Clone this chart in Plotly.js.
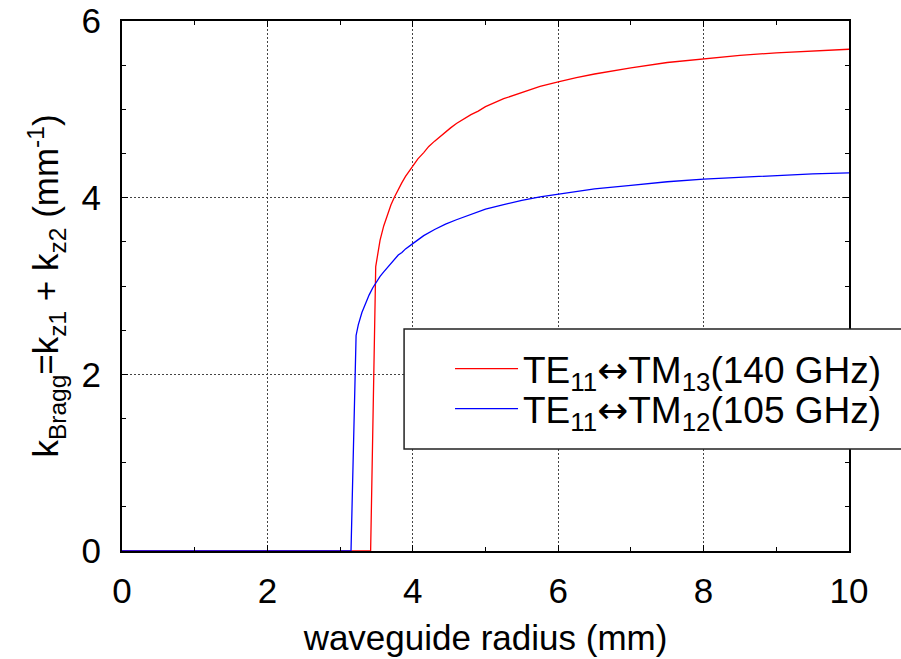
<!DOCTYPE html>
<html>
<head>
<meta charset="utf-8">
<script src="https://cdn.plot.ly/plotly-3.0.1.min.js"></script>
<style>html,body{margin:0;padding:0;background:#fff;}#chart{width:901px;height:659px;}</style>
</head>
<body>
<div id="chart"></div>
<script>
// waveguide radius (mm) and k_Bragg (mm^-1)
const radius140 = [0, 3.42, 3.49, 3.52, 3.55, 3.6, 3.65, 3.7, 3.75, 3.8, 3.85, 3.9, 3.95, 4.0, 4.07, 4.15, 4.22, 4.3, 4.37, 4.45, 4.52, 4.6, 4.7, 4.8, 4.9, 5.0, 5.25, 5.5, 5.75, 6.0, 6.25, 6.5, 7.0, 7.5, 8.0, 8.5, 9.0, 9.5, 10.0];
const kBragg140 = [0, 0, 3.22, 3.39, 3.52, 3.68, 3.81, 3.92, 4.01, 4.10, 4.17, 4.24, 4.30, 4.36, 4.44, 4.51, 4.58, 4.64, 4.69, 4.75, 4.79, 4.84, 4.89, 4.94, 4.98, 5.03, 5.12, 5.19, 5.26, 5.31, 5.36, 5.40, 5.47, 5.53, 5.57, 5.61, 5.64, 5.66, 5.68];
const radius105 = [0, 3.15, 3.22, 3.25, 3.3, 3.35, 3.4, 3.45, 3.5, 3.55, 3.6, 3.65, 3.7, 3.75, 3.8, 3.85, 3.9, 4.0, 4.07, 4.15, 4.3, 4.45, 4.6, 4.7, 4.8, 4.9, 5.0, 5.25, 5.5, 5.75, 6.0, 6.25, 6.5, 7.0, 7.5, 8.0, 8.5, 9.0, 9.5, 10.0];
const kBragg105 = [0, 0, 2.44, 2.56, 2.70, 2.81, 2.90, 2.98, 3.05, 3.11, 3.16, 3.21, 3.26, 3.30, 3.35, 3.38, 3.42, 3.48, 3.52, 3.57, 3.64, 3.70, 3.75, 3.78, 3.81, 3.84, 3.87, 3.92, 3.97, 4.01, 4.04, 4.07, 4.10, 4.14, 4.18, 4.21, 4.23, 4.25, 4.27, 4.28];
const seriesNames = [
  "TE<sub>11</sub><span style=\"font-family:DejaVu Sans\">\u2194</span>TM<sub>13</sub>(140 GHz)",
  "TE<sub>11</sub><span style=\"font-family:DejaVu Sans\">\u2194</span>TM<sub>12</sub>(105 GHz)"
];
const xTickVals = [0, 2, 4, 6, 8, 10];
const yTickVals = [0, 2, 4, 6];

const FONT = "Liberation Sans, Arial, sans-serif";

const traces = [
  {x: radius140, y: kBragg140, name: seriesNames[0], type: "scatter", mode: "lines",
   line: {color: "#ff0000", width: 1.3}, legend: "legend"},
  {x: radius105, y: kBragg105, name: seriesNames[1], type: "scatter", mode: "lines",
   line: {color: "#0000ff", width: 1.3}, legend: "legend2"}
];

const axisCommon = {
  showline: true, linecolor: "#000", linewidth: 2, mirror: "ticks",
  ticks: "inside", ticklen: 6, tickwidth: 1, tickcolor: "#000",
  showgrid: true, gridcolor: "#444", gridwidth: 1, griddash: "2px,2px",
  zeroline: false,
  tickfont: {family: FONT, size: 35, color: "#000"}
};

const legendCommon = {
  xanchor: "left", yanchor: "middle",
  bgcolor: "rgba(0,0,0,0)", borderwidth: 0,
  font: {family: FONT, size: 37, color: "#000"},
  itemwidth: 63
};

const layout = {
  width: 901, height: 659,
  margin: {l: 122, r: 52, t: 21, b: 108, pad: 0},
  paper_bgcolor: "#fff", plot_bgcolor: "#fff",
  font: {family: FONT, size: 35, color: "#000"},
  showlegend: true,
  xaxis: Object.assign({}, axisCommon, {
    range: [0, 10], tickmode: "array", tickvals: xTickVals,
    minor: {dtick: 1, ticks: "inside", ticklen: 4, tickcolor: "#000", showgrid: false},
    ticklabelstandoff: 8,
    title: {text: "waveguide radius (mm)", font: {family: FONT, size: 35}, standoff: 16}
  }),
  yaxis: Object.assign({}, axisCommon, {
    range: [0, 6], tickmode: "array", tickvals: yTickVals,
    minor: {dtick: 0.5, ticks: "inside", ticklen: 4, tickcolor: "#000", showgrid: false},
    ticklabelstandoff: 12,
    title: {text: "k<sub>Bragg</sub>=k<sub>z1</sub> + k<sub>z2</sub> (mm<sup>-1</sup>)", font: {family: FONT, size: 35}, standoff: 12}
  }),
  shapes: [{
    type: "rect", xref: "paper", yref: "paper", layer: "above",
    x0: 0.388, x1: 1.12, y0: 0.1925, y1: 0.4189,
    fillcolor: "#fff", line: {color: "#222", width: 1.5}
  }],
  legend: Object.assign({}, legendCommon, {x: 0.4512, y: 0.3434}),
  legend2: Object.assign({}, legendCommon, {x: 0.4512, y: 0.2679})
};

Plotly.newPlot("chart", traces, layout, {displayModeBar: false, staticPlot: true});
</script>
</body>
</html>
